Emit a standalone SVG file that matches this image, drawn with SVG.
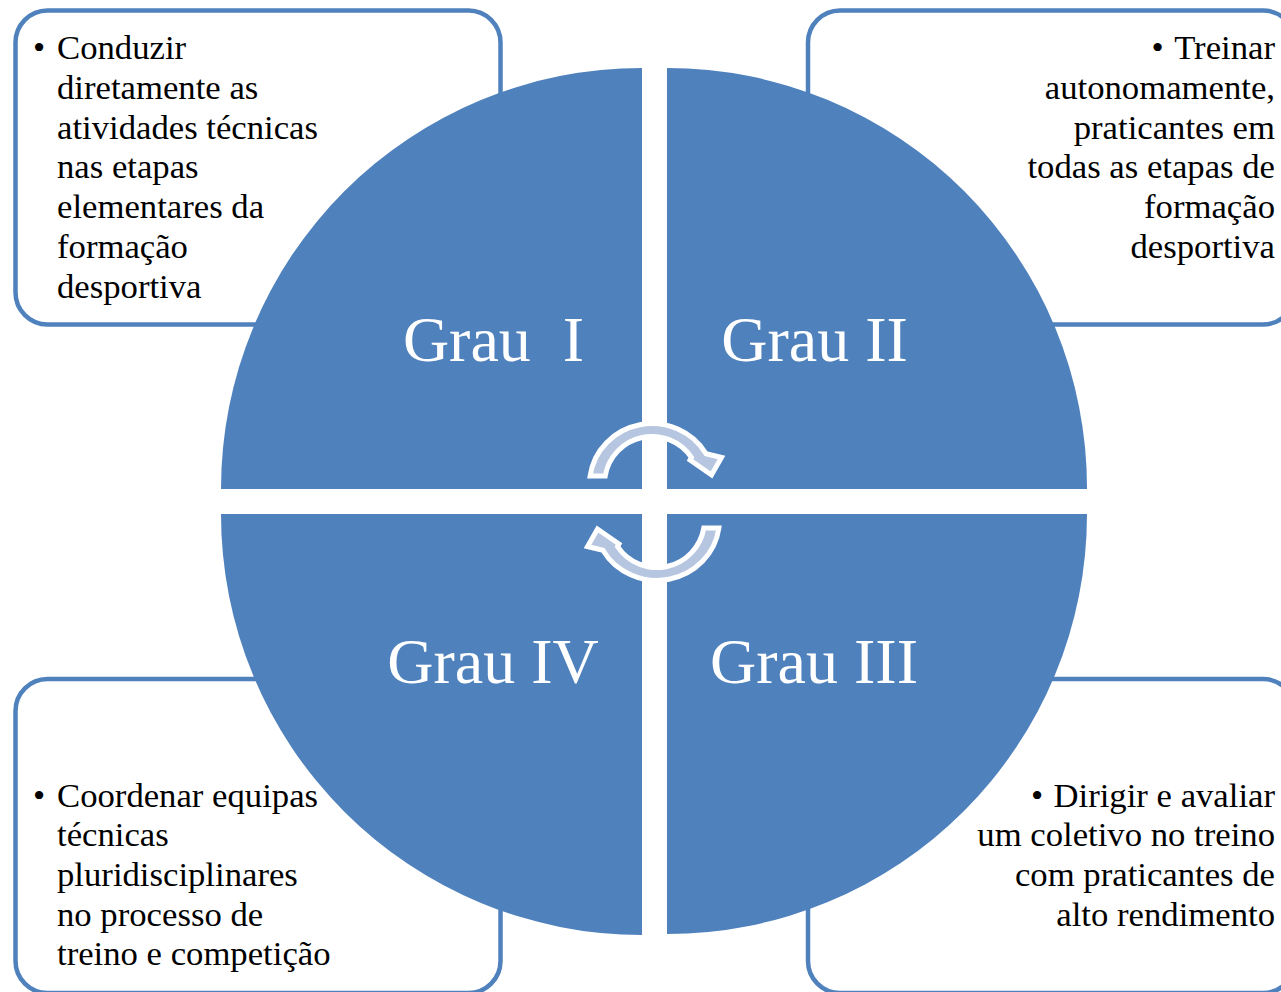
<svg xmlns="http://www.w3.org/2000/svg" width="1281" height="992" viewBox="0 0 1281 992">
<style>
.box{fill:#ffffff;stroke:#4f81bd;stroke-width:4.5}
.q{fill:#4f81bd}
.t{font-family:"Liberation Serif","Times New Roman",serif;font-size:34.7px;fill:#000000}
.r{text-anchor:end}
.b{text-anchor:middle}
.g{font-family:"Liberation Serif","Times New Roman",serif;font-size:64px;fill:#ffffff;text-anchor:middle}
.arr{fill:#b7c6e0;stroke:#ffffff;stroke-width:5;stroke-linejoin:miter}
</style>
<rect width="1281" height="992" fill="#ffffff"/>
<g id="box-grau1">
<rect class="box" x="15.5" y="10.5" width="485" height="314" rx="32"/>
<text class="t b" x="39" y="59.3">•</text>
<text class="t" x="57"><tspan x="57" y="59.3">Conduzir</tspan><tspan x="57" y="99">diretamente as</tspan><tspan x="57" y="138.7">atividades técnicas</tspan><tspan x="57" y="178.4">nas etapas</tspan><tspan x="57" y="218.1">elementares da</tspan><tspan x="57" y="257.8">formação</tspan><tspan x="57" y="297.5">desportiva</tspan></text>
</g>
<g id="box-grau2">
<rect class="box" x="808" y="10.5" width="487" height="314" rx="32"/>
<text class="t b" x="1157.5" y="59.3">•</text>
<text class="t r"><tspan x="1275" y="59.3">Treinar</tspan><tspan x="1275" y="99">autonomamente,</tspan><tspan x="1275" y="138.7">praticantes em</tspan><tspan x="1275" y="178.4">todas as etapas de</tspan><tspan x="1275" y="218.1">formação</tspan><tspan x="1275" y="257.8">desportiva</tspan></text>
</g>
<g id="box-grau4">
<rect class="box" x="15.5" y="679" width="485" height="314" rx="32"/>
<text class="t b" x="39" y="806.7">•</text>
<text class="t"><tspan x="57" y="806.7">Coordenar equipas</tspan><tspan x="57" y="846.3">técnicas</tspan><tspan x="57" y="885.9">pluridisciplinares</tspan><tspan x="57" y="925.5">no processo de</tspan><tspan x="57" y="965.1">treino e competição</tspan></text>
</g>
<g id="box-grau3">
<rect class="box" x="808" y="679" width="487" height="314" rx="32"/>
<text class="t b" x="1037" y="806.7">•</text>
<text class="t r"><tspan x="1275" y="806.7">Dirigir e avaliar</tspan><tspan x="1275" y="846.3">um coletivo no treino</tspan><tspan x="1275" y="885.9">com praticantes de</tspan><tspan x="1275" y="925.5">alto rendimento</tspan></text>
</g>
<g id="grau1">
<path class="q" d="M642 489 L221 489 A421 421 0 0 1 642 68 Z"/>
<text class="g" x="493.5" y="361" xml:space="preserve">Grau  I</text>
</g>
<g id="grau2">
<path class="q" d="M667 489 L667 68 A420 420 0 0 1 1087 489 Z"/>
<text class="g" x="814.5" y="361">Grau II</text>
</g>
<g id="grau4">
<path class="q" d="M642 514 L642 935 A421 421 0 0 1 221 514 Z"/>
<text class="g" x="493" y="683">Grau IV</text>
</g>
<g id="grau3">
<path class="q" d="M667 514 L1087 514 A420 420 0 0 1 667 934 Z"/>
<text class="g" x="814" y="683">Grau III</text>
</g>
<g id="connectors">
<path id="arrow-top" class="arr" d="M590.1 476 A62.5 60.5 0 0 1 706.1 453.8 L721.5 457.5 L711.5 475 L690 460 L691.4 457.4 A47.5 47.5 0 0 0 605.2 476 Z"/>
<path id="arrow-bottom" class="arr" transform="rotate(180 654.5 502)" d="M590.1 476 A62.5 60.5 0 0 1 706.1 453.8 L721.5 457.5 L711.5 475 L690 460 L691.4 457.4 A47.5 47.5 0 0 0 605.2 476 Z"/>
</g>
</svg>
